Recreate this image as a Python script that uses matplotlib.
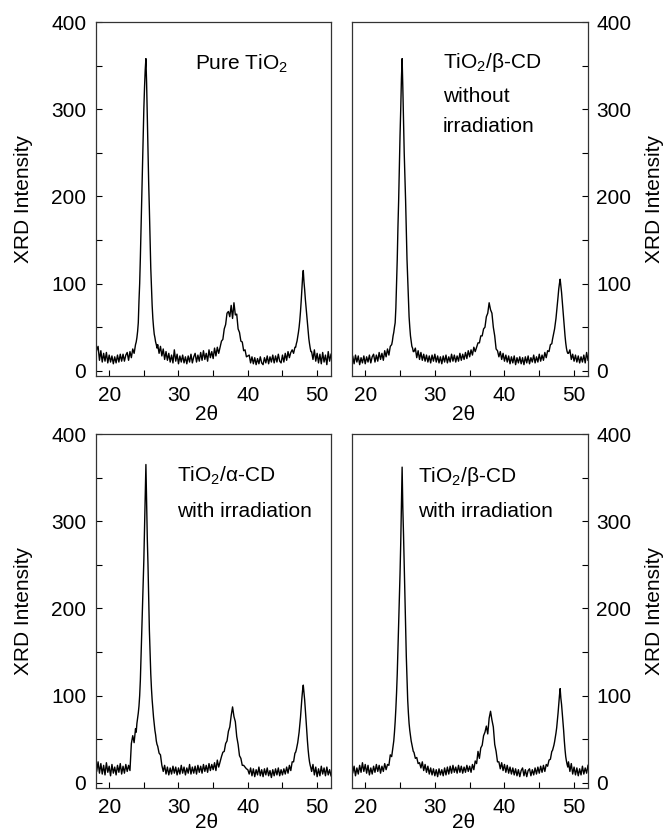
import matplotlib

matplotlib.use("Agg")
import matplotlib.pyplot as plt
from matplotlib.ticker import MultipleLocator

plt.rcParams["font.family"] = ["Liberation Sans", "DejaVu Sans"]
plt.rcParams["mathtext.fontset"] = "custom"
plt.rcParams["mathtext.rm"] = "Liberation Sans"
plt.rcParams["mathtext.default"] = "regular"

# 2-theta sampling (denser around the sharp reflections)
TWO_THETA = [
    18.0, 18.2, 18.4, 18.6, 18.8, 19.0, 19.2, 19.4, 19.6, 19.8,
    20.0, 20.2, 20.4, 20.6, 20.8, 21.0, 21.2, 21.4, 21.6, 21.8,
    22.0, 22.2, 22.4, 22.6, 22.8, 23.0, 23.2, 23.4, 23.6, 23.8,
    23.9, 24.0, 24.1, 24.2, 24.3, 24.4, 24.5, 24.6, 24.7, 24.8,
    24.9, 25.0, 25.1, 25.2, 25.3, 25.4, 25.5, 25.6, 25.7, 25.8,
    25.9, 26.0, 26.1, 26.2, 26.3, 26.4, 26.5, 26.6, 26.7, 26.8, 26.9,
    27.0, 27.2, 27.4, 27.6, 27.8, 28.0, 28.2, 28.4, 28.6, 28.8,
    29.0, 29.2, 29.4, 29.6, 29.8, 30.0, 30.2, 30.4, 30.6, 30.8,
    31.0, 31.2, 31.4, 31.6, 31.8, 32.0, 32.2, 32.4, 32.6, 32.8,
    33.0, 33.2, 33.4, 33.6, 33.8, 34.0, 34.2, 34.4, 34.6, 34.8,
    35.0, 35.2, 35.4, 35.6, 35.8,
    36.0, 36.2, 36.4, 36.6, 36.8, 37.0, 37.2, 37.4, 37.6, 37.8,
    38.0, 38.2, 38.4, 38.6, 38.8, 39.0, 39.2, 39.4, 39.6, 39.8, 40.0,
    40.2, 40.4, 40.6, 40.8, 41.0, 41.2, 41.4, 41.6, 41.8, 42.0,
    42.2, 42.4, 42.6, 42.8, 43.0, 43.2, 43.4, 43.6, 43.8, 44.0,
    44.2, 44.4, 44.6, 44.8, 45.0, 45.2, 45.4, 45.6, 45.8, 46.0,
    46.2, 46.4, 46.6, 46.8,
    46.9, 47.0, 47.1, 47.2, 47.3, 47.4, 47.5, 47.6, 47.7, 47.8,
    47.9, 48.0, 48.1, 48.2, 48.3, 48.4, 48.5, 48.6, 48.7, 48.8,
    48.9, 49.0, 49.1,
    49.2, 49.4, 49.6, 49.8, 50.0, 50.2, 50.4, 50.6, 50.8, 51.0,
    51.2, 51.4, 51.6, 51.8, 52.0,
]

PURE_TIO2 = [
    16, 24, 28, 12, 23, 10, 20, 11, 21, 9,
    18, 10, 17, 8, 16, 9, 18, 10, 19, 11,
    19, 11, 18, 21, 12, 22, 15, 25, 20, 30,
    33, 38, 45, 55, 80, 100, 130, 165, 200, 235,
    268, 300, 325, 345, 358, 330, 290, 245, 215, 185,
    150, 118, 95, 75, 60, 50, 42, 38, 33, 30, 26,
    30, 20, 28, 17, 25, 13, 22, 12, 20, 10,
    18, 9, 24, 11, 19, 8, 17, 10, 18, 9,
    16, 8, 17, 10, 19, 9, 16, 20, 10, 18,
    11, 21, 12, 23, 13, 20, 11, 24, 15, 22,
    14, 26, 17, 27, 20,
    27, 34, 36, 48, 53, 66, 68, 62, 75, 60,
    78, 64, 65, 48, 44, 34, 33, 23, 24, 16, 17,
    18, 9, 16, 8, 15, 7, 14, 8, 16, 9,
    7, 15, 9, 17, 8, 16, 10, 18, 9, 17,
    10, 19, 11, 9, 18, 10, 20, 12, 22, 15,
    21, 24, 20, 27,
    27, 31, 34, 39, 44, 50, 58, 68, 80, 94,
    107, 115, 102, 93, 82, 73, 63, 54, 45, 37,
    31, 26, 22,
    22, 13, 24, 11, 20, 9, 19, 8, 21, 10,
    18, 7, 22, 11, 19,
]

BCD_NO_IRR = [
    12, 17, 8, 18, 10, 17, 7, 15, 9, 17,
    8, 16, 10, 18, 9, 16, 19, 10, 18, 11,
    21, 13, 20, 12, 23, 16, 25, 18, 28, 30,
    34, 40, 44, 50, 55, 72, 100, 128, 165, 195,
    235, 270, 300, 335, 358, 325, 285, 250, 222, 195,
    160, 128, 105, 82, 62, 50, 40, 34, 28, 26, 22,
    22, 26, 15, 23, 13, 21, 12, 19, 11, 18,
    10, 17, 9, 18, 11, 19, 10, 17, 9, 16,
    8, 17, 10, 18, 9, 16, 10, 19, 11, 18,
    10, 17, 11, 20, 12, 19, 13, 21, 14, 23,
    16, 24, 18, 27, 22,
    27, 32, 32, 40, 40, 48, 50, 62, 66, 78,
    70, 66, 50, 40, 25, 23, 16, 22, 13, 20, 11,
    18, 10, 17, 8, 16, 9, 17, 7, 15, 9,
    16, 8, 15, 7, 16, 9, 17, 8, 15, 10,
    18, 9, 16, 10, 19, 11, 18, 12, 21, 15,
    23, 22, 30, 31,
    36, 40, 44, 48, 54, 60, 68, 76, 85, 94,
    100, 105, 98, 90, 80, 70, 60, 50, 40, 32,
    26, 22, 20,
    20, 24, 13, 19, 11, 18, 10, 17, 9, 16,
    10, 18, 9, 21, 12,
]

ACD_IRR = [
    20, 13, 24, 11, 22, 10, 20, 9, 23, 12,
    19, 8, 21, 11, 18, 9, 20, 12, 22, 10,
    19, 11, 21, 13, 20, 14, 45, 54, 46, 62,
    58, 68, 74, 80, 88, 100, 118, 145, 170, 195,
    225, 255, 290, 330, 365, 320, 280, 250, 210, 175,
    150, 125, 108, 95, 85, 75, 67, 60, 55, 48, 44,
    42, 34, 32, 20, 13, 20, 10, 18, 9, 17,
    10, 19, 11, 18, 9, 17, 10, 20, 11, 18,
    9, 17, 11, 21, 10, 18, 11, 19, 10, 20,
    12, 19, 11, 21, 13, 20, 12, 22, 14, 21,
    15, 23, 14, 26, 18,
    24, 30, 35, 36, 45, 48, 59, 64, 77, 87,
    76, 70, 53, 44, 31, 28, 20, 20, 18, 16, 15,
    10, 17, 8, 16, 7, 15, 9, 18, 8, 15,
    7, 16, 9, 17, 8, 14, 6, 15, 8, 16,
    9, 17, 8, 15, 9, 16, 10, 18, 11, 20,
    14, 24, 24, 34,
    35, 38, 42, 46, 52, 58, 66, 75, 86, 97,
    106, 112, 104, 95, 84, 72, 60, 48, 38, 30,
    24, 20, 17,
    13, 21, 9, 18, 7, 16, 8, 19, 10, 17,
    8, 18, 9, 15, 8,
]

BCD_IRR = [
    17, 11, 19, 8, 17, 10, 20, 12, 23, 13,
    21, 11, 20, 9, 17, 10, 19, 12, 21, 13,
    20, 11, 19, 13, 22, 15, 21, 20, 32, 30,
    36, 42, 48, 58, 70, 85, 103, 125, 155, 182,
    210, 240, 275, 320, 362, 315, 285, 250, 210, 175,
    145, 118, 95, 80, 68, 60, 54, 48, 44, 40, 36,
    35, 28, 29, 22, 23, 17, 24, 14, 21, 12,
    19, 10, 17, 9, 16, 8, 15, 7, 16, 9,
    15, 8, 17, 9, 18, 10, 19, 11, 20, 12,
    18, 11, 20, 12, 19, 11, 18, 12, 20, 13,
    19, 12, 21, 15, 25,
    22, 36, 28, 40, 43, 54, 58, 65, 56, 74,
    82, 72, 64, 44, 36, 24, 24, 16, 23, 14, 21,
    12, 20, 11, 18, 10, 17, 9, 16, 8, 15,
    7, 14, 17, 8, 15, 7, 14, 16, 8, 15,
    9, 17, 10, 18, 11, 19, 12, 20, 13, 21,
    19, 26, 27, 36,
    37, 40, 43, 47, 52, 57, 63, 71, 80, 90,
    100, 108, 97, 90, 80, 70, 60, 48, 38, 30,
    25, 21, 18,
    24, 13, 22, 10, 18, 9, 17, 8, 16, 9,
    19, 10, 17, 11, 20,
]

PANEL_TEXT = [
    ["Pure TiO$_2$"],
    ["TiO$_2$/β-CD", "without", "irradiation"],
    ["TiO$_2$/α-CD", "with irradiation"],
    ["TiO$_2$/β-CD", "with irradiation"],
]

FS = 15
W, H = 666, 838

fig = plt.figure(figsize=(W / 100, H / 100), dpi=100)

# axes boxes in pixels: left, top, right, bottom
boxes = [(96, 22, 331, 376), (352, 22, 588, 376), (96, 434, 331, 788), (352, 434, 588, 788)]
series = [PURE_TIO2, BCD_NO_IRR, ACD_IRR, BCD_IRR]
sides = ["left", "right", "left", "right"]
text_x = [0.421, 0.386, 0.343, 0.281]
text_y = [[0.864], [0.870, 0.774, 0.690], [0.865, 0.766], [0.865, 0.766]]

for i, (l, t, r, b) in enumerate(boxes):
    ax = fig.add_axes([l / W, 1 - b / H, (r - l) / W, (b - t) / H])
    ax.plot(TWO_THETA, series[i], color="black", lw=1.0)
    ax.set_xlim(18.1, 52.0)
    ax.set_ylim(-6, 400)
    ax.xaxis.set_major_locator(MultipleLocator(10))
    ax.xaxis.set_minor_locator(MultipleLocator(5))
    ax.yaxis.set_major_locator(MultipleLocator(100))
    ax.yaxis.set_minor_locator(MultipleLocator(50))
    ax.tick_params(which="both", direction="in", length=4.5, width=0.8, labelsize=FS)
    ax.tick_params(axis="x", pad=7)
    for sp in ax.spines.values():
        sp.set_linewidth(0.9)
        sp.set_color("#333333")
    ax.set_ylabel("XRD Intensity", fontsize=FS)
    if sides[i] == "right":
        ax.yaxis.tick_right()
        ax.yaxis.set_label_position("right")
        ax.tick_params(axis="y", pad=6)
        ax.yaxis.set_label_coords(1.24, 0.5)
    else:
        ax.tick_params(axis="y", pad=7)
        ax.yaxis.set_label_coords(-0.268, 0.5)
    ax.set_xlabel("2θ", fontsize=FS)
    ax.xaxis.set_label_coords(0.472, -0.082 if i < 2 else -0.07)
    for line, yy in zip(PANEL_TEXT[i], text_y[i]):
        ax.text(text_x[i], yy, line, transform=ax.transAxes, fontsize=FS, va="baseline", ha="left")

fig.savefig("out.png", dpi=100)
